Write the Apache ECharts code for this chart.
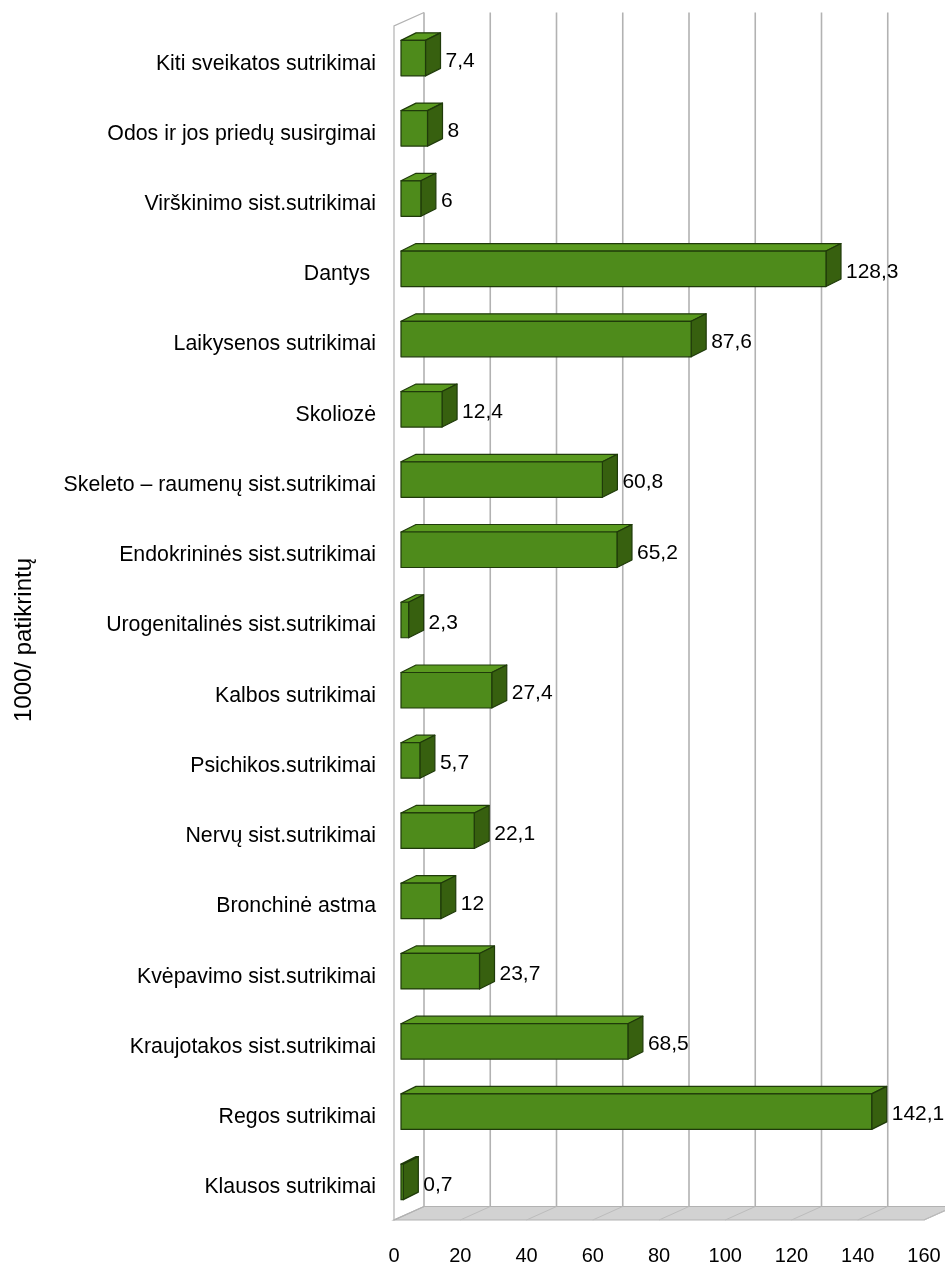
<!DOCTYPE html>
<html>
<head>
<meta charset="utf-8">
<style>
  html, body { margin: 0; padding: 0; background: #fff; }
  #chart { width: 945px; height: 1264px; }
</style>
<script src="https://cdn.jsdelivr.net/npm/echarts@6/dist/echarts.min.js"></script>
</head>
<body>
<div id="chart"></div>
<script>
const categories = [
  "Kiti sveikatos sutrikimai", "Odos ir jos priedų susirgimai", "Virškinimo sist.sutrikimai",
  "Dantys ", "Laikysenos sutrikimai", "Skoliozė", "Skeleto – raumenų sist.sutrikimai",
  "Endokrininės sist.sutrikimai", "Urogenitalinės sist.sutrikimai", "Kalbos sutrikimai",
  "Psichikos.sutrikimai", "Nervų sist.sutrikimai", "Bronchinė astma", "Kvėpavimo sist.sutrikimai",
  "Kraujotakos sist.sutrikimai", "Regos sutrikimai", "Klausos sutrikimai"
];
const values = [7.4, 8, 6, 128.3, 87.6, 12.4, 60.8, 65.2, 2.3, 27.4, 5.7, 22.1, 12, 23.7, 68.5, 142.1, 0.7];
const ticks = [0, 20, 40, 60, 80, 100, 120, 140, 160];
const axisName = "1000/ patikrintų";

const FONT = '"Liberation Sans", Arial, sans-serif';
const wallDx = 30, wallDy = -13.5;   // depth of the floor and wall
const barDx = 15, barDy = -7.5;      // depth of one bar
const barHeight = 35.5;

const chart = echarts.init(document.getElementById("chart"), null, { renderer: "canvas" });

// back wall grid lines and the floor
function renderFrame(params, api) {
  const cs = params.coordSys;
  const bottom = cs.y + cs.height;
  const x = api.coord([api.value(0), 0])[0];
  const children = [];
  if (params.dataIndex === 0) {
    const right = cs.x + cs.width;
    children.push({
      type: "polygon",
      shape: { points: [[cs.x, bottom], [right, bottom], [right + wallDx, bottom + wallDy], [cs.x + wallDx, bottom + wallDy]] },
      style: { fill: "#d2d2d2", stroke: "#b2b2b2", lineWidth: 1.2 }
    });
    children.push({
      type: "polyline",
      shape: { points: [[cs.x + wallDx, bottom + wallDy], [cs.x, bottom], [cs.x, cs.y], [cs.x + wallDx, cs.y + wallDy]] },
      style: { fill: null, stroke: "#b2b2b2", lineWidth: 1.2 }
    });
  } else {
    children.push({
      type: "line",
      shape: { x1: x, y1: bottom, x2: x + wallDx, y2: bottom + wallDy },
      style: { stroke: "#bcbcbc", lineWidth: 1 }
    });
  }
  children.push({
    type: "line",
    shape: { x1: x + wallDx, y1: cs.y + wallDy, x2: x + wallDx, y2: bottom + wallDy },
    style: { stroke: "#b2b2b2", lineWidth: 1.6 }
  });
  return { type: "group", children };
}

// 3d bar: front, top, side and the value label
function renderBar(params, api) {
  const val = api.value(0);
  const zero = api.coord([0, api.value(1)]);
  const end = api.coord([val, api.value(1)]);
  const x0 = zero[0] + 7, x1 = end[0] + 7;
  const y0 = zero[1] - 3 - barHeight / 2, y1 = y0 + barHeight;
  const edge = { stroke: "#1f3a0a", lineWidth: 1.2, lineJoin: "round" };
  return {
    type: "group",
    children: [
      { type: "polygon", shape: { points: [[x0, y0], [x1, y0], [x1 + barDx, y0 + barDy], [x0 + barDx, y0 + barDy]] },
        style: Object.assign({ fill: "#5a9a1f" }, edge) },
      { type: "polygon", shape: { points: [[x1, y0], [x1 + barDx, y0 + barDy], [x1 + barDx, y1 + barDy], [x1, y1]] },
        style: Object.assign({ fill: "#37600f" }, edge) },
      { type: "rect", shape: { x: x0, y: y0, width: x1 - x0, height: barHeight },
        style: Object.assign({ fill: "#4e8b1b" }, edge) },
      { type: "text", x: x1 + barDx + 5, y: y0 + barHeight / 2 + 3,
        style: { text: String(val).replace(".", ","), fill: "#000", font: "21px " + FONT, textAlign: "left", textVerticalAlign: "middle" } }
    ]
  };
}

chart.setOption({
  animation: false,
  grid: { left: 394, top: 26, width: 530, height: 1194, outerBoundsMode: "none" },
  xAxis: {
    type: "value", min: 0, max: 160, interval: 20,
    axisLine: { show: false }, axisTick: { show: false }, splitLine: { show: false },
    axisLabel: { color: "#000", fontFamily: FONT, fontSize: 20, margin: 26, showMinLabel: true, showMaxLabel: true,
      formatter: (v) => (ticks.includes(v) ? String(v) : "") }
  },
  yAxis: {
    type: "category", inverse: true, data: categories,
    name: axisName, nameLocation: "middle", nameGap: 358, nameRotate: 90,
    nameTextStyle: { color: "#000", fontFamily: FONT, fontSize: 24, padding: [0, 34, 0, 0] },
    axisLine: { show: false }, axisTick: { show: false }, splitLine: { show: false },
    axisLabel: {
      color: "#000", fontFamily: FONT, fontSize: 21.3, margin: 18, interval: 0,
      formatter: (v) => "{cat|" + v + "}",
      rich: { cat: { color: "#000", fontFamily: FONT, fontSize: 21.3, padding: [5, 0, 0, 0] } }
    }
  },
  series: [
    { type: "custom", clip: false, silent: true, z: 1, renderItem: renderFrame,
      data: ticks.map((t) => [t, 0]), encode: { x: 0, y: 1 } },
    { type: "custom", clip: false, silent: true, z: 2, renderItem: renderBar,
      data: values.map((v, i) => [v, i]), encode: { x: 0, y: 1 } }
  ]
});
</script>
</body>
</html>
